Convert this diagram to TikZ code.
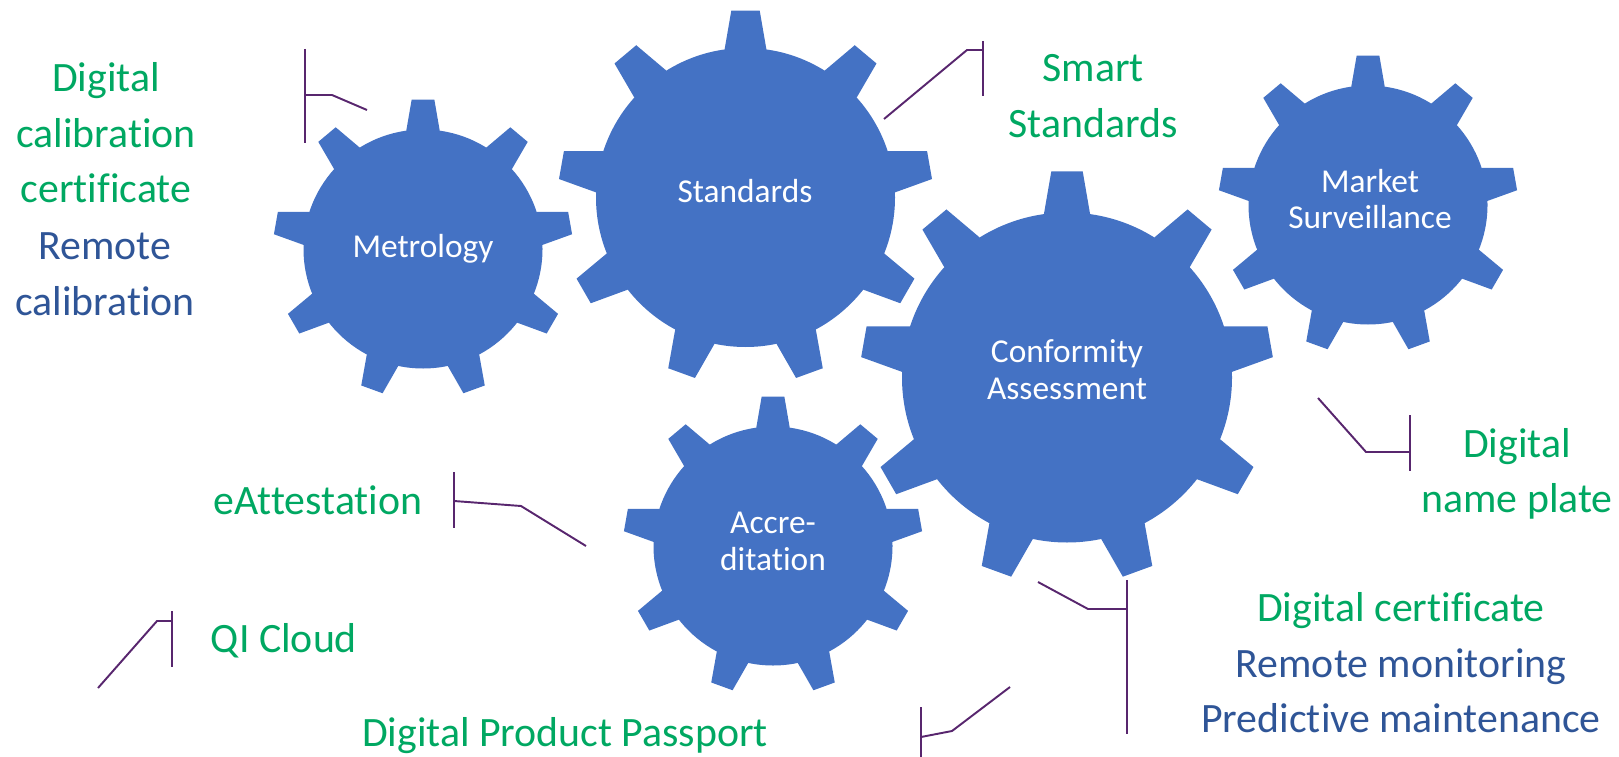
\documentclass[tikz,border=0pt]{standalone}
\usepackage{fontspec}
\setmainfont{Carlito}[Ligatures=NoCommon]
\definecolor{gearblue}{RGB}{68,114,196}
\definecolor{qigreen}{RGB}{0,168,98}
\definecolor{qiblue}{RGB}{47,85,151}
\definecolor{callpurple}{RGB}{88,38,110}

\begin{document}
\begin{tikzpicture}[x=0.02cm, y=-0.02cm,
	gearlabel/.style={text=white, align=center, font=\fontsize{19}{21}\selectfont},
	greentext/.style={text=qigreen, align=center, font=\fontsize{23.8}{31.6}\selectfont},
	bluetext/.style={greentext, text=qiblue},
	callout/.style={draw=callpurple, line width=1.1pt}]

	\useasboundingbox (0,0) rectangle (1619,757);

	% gears: centre x / centre y / body radius
	\foreach \cx/\cy/\r in {423/249/119.5, 745.5/197.5/149.5, 1067/377.5/165,
			1368/205/119.5, 773/546/119.5} {
		\fill[gearblue] (\cx,\cy) circle (\r);
		\foreach \k in {0,...,8}
			\fill[gearblue, shift={(\cx,\cy)}, rotate=90-40*\k]
				({0.8*\r},0) -- ({0.99*\r},{-0.14*\r}) -- ({1.25*\r},{-0.095*\r})
				-- ({1.25*\r},{0.095*\r}) -- ({0.99*\r},{0.14*\r}) -- cycle;
	}

	\node[gearlabel] (metrology) at (423,249) {Metrology};
	\node[gearlabel] (standards) at (745,191) {Standards};
	\node[gearlabel] (conformity) at (1067,370) {Conformity\\Assessment};
	\node[gearlabel] (market) at (1370,199) {Market\\Surveillance};
	\node[gearlabel] (accreditation) at (773,541) {Accre-\\ditation};

	% texts
	\node[greentext] (dcc) at (106,133) {Digital\\calibration\\certificate};
	\node[bluetext] (remcal) at (105,274) {Remote\\calibration};
	\node[greentext] (smart) at (1093,96) {Smart\\Standards};
	\node[greentext] (eatt) at (318,500) {eAttestation};
	\node[greentext] (qicloud) at (284,641) {QI Cloud};
	\node[greentext] (dpp) at (565,736) {Digital Product Passport};
	\node[greentext] (plate) at (1517,474) {Digital\\name plate};
	\node[greentext] (dcert) at (1401,611) {Digital certificate};
	\node[bluetext] (remmon) at (1401,691) {Remote monitoring\\Predictive maintenance};

	% callouts
	\coordinate (met tip) at (367,110);
	\coordinate (met elbow) at (332,95);
	\coordinate (met bar) at (305,95);
	\coordinate (met top) at (305,49);
	\coordinate (met bottom) at (305,143);
	\draw[callout] (met tip) -- (met elbow) -- (met bar);
	\draw[callout] (met top) -- (met bottom);

	\coordinate (std tip) at (884,119);
	\coordinate (std elbow) at (967,50);
	\coordinate (std bar) at (983,50);
	\coordinate (std top) at (983,41);
	\coordinate (std bottom) at (983,96);
	\draw[callout] (std tip) -- (std elbow) -- (std bar);
	\draw[callout] (std top) -- (std bottom);

	\coordinate (acc tip) at (586,546);
	\coordinate (acc elbow) at (521,506);
	\coordinate (acc bar) at (454,501);
	\coordinate (acc top) at (454,472);
	\coordinate (acc bottom) at (454,528);
	\draw[callout] (acc tip) -- (acc elbow) -- (acc bar);
	\draw[callout] (acc top) -- (acc bottom);

	\coordinate (qi tip) at (98,688);
	\coordinate (qi elbow) at (157,621);
	\coordinate (qi bar) at (172,621);
	\coordinate (qi top) at (172,611);
	\coordinate (qi bottom) at (172,667);
	\draw[callout] (qi tip) -- (qi elbow) -- (qi bar);
	\draw[callout] (qi top) -- (qi bottom);

	\coordinate (dpp tip) at (1010,687);
	\coordinate (dpp elbow) at (952,731);
	\coordinate (dpp bar) at (921,737);
	\coordinate (dpp top) at (921,707);
	\coordinate (dpp bottom) at (921,760);
	\draw[callout] (dpp tip) -- (dpp elbow) -- (dpp bar);
	\draw[callout] (dpp top) -- (dpp bottom);

	\coordinate (ca tip) at (1038,582);
	\coordinate (ca elbow) at (1088,609);
	\coordinate (ca bar) at (1127,609);
	\coordinate (ca top) at (1127,580);
	\coordinate (ca bottom) at (1127,734);
	\draw[callout] (ca tip) -- (ca elbow) -- (ca bar);
	\draw[callout] (ca top) -- (ca bottom);

	\coordinate (np tip) at (1318,398);
	\coordinate (np elbow) at (1366,452);
	\coordinate (np bar) at (1410,452);
	\coordinate (np top) at (1410,415);
	\coordinate (np bottom) at (1410,471);
	\draw[callout] (np tip) -- (np elbow) -- (np bar);
	\draw[callout] (np top) -- (np bottom);

\end{tikzpicture}
\end{document}
